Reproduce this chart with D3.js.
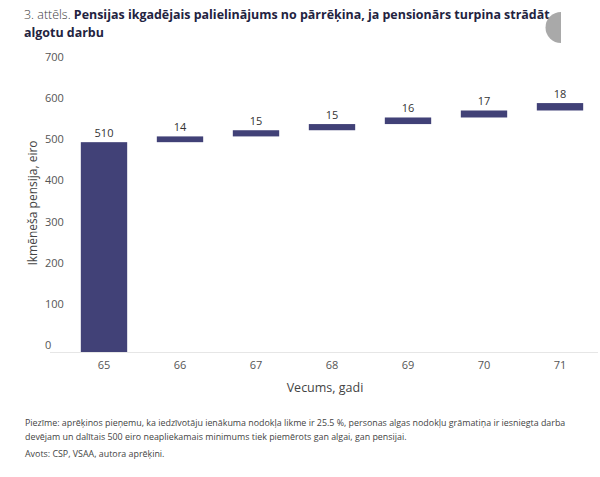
<!DOCTYPE html>
<html>
  <head>
    <meta charset="UTF-8" />
    <script src="https://d3js.org/d3.v7.min.js"></script>
    <style>
      body { margin: 0; background: #fff; }
      text { font-family: "Open Sans", sans-serif; }
    </style>
  </head>
  <body>
    <div id="chart"></div>

    <script>
      // ages on the x axis
      var ages = ["65", "66", "67", "68", "69", "70", "71"];
      // first bar is the starting pension, the rest are yearly increases
      var increments = [510, 14, 15, 15, 16, 17, 18];
      var yTicks = [0, 100, 200, 300, 400, 500, 600, 700];

      var width = 600,
        height = 477;

      var svg = d3
        .select("#chart")
        .append("svg")
        .attr("width", width)
        .attr("height", height);

      // running totals for the waterfall
      var data = [];
      var total = 0;
      for (var i = 0; i < ages.length; i++) {
        data.push({ age: ages[i], start: total, end: total + increments[i], value: increments[i] });
        total += increments[i];
      }

      var x = d3
        .scaleBand()
        .domain(ages)
        .range([66, 598])
        .paddingInner(0.39)
        .paddingOuter(0.195);

      var y = d3.scaleLinear().domain([0, 700]).range([352, 64]);

      // title
      var title = svg.append("text").attr("x", 24).attr("y", 19).style("font-size", "14px");
      title.append("tspan").attr("fill", "#3a3a3a").attr("font-weight", 300).text("3. attēls. ");
      title
        .append("tspan")
        .attr("fill", "#23233f")
        .attr("font-weight", 700)
        .text("Pensijas ikgadējais palielinājums no pārrēķina, ja pensionārs turpina strādāt");
      var title2 = svg
        .append("text")
        .attr("x", 24)
        .attr("y", 37)
        .attr("fill", "#23233f")
        .attr("font-weight", 700)
        .style("font-size", "14px")
        .text("algotu darbu");

      // shrink the title so the first line ends where the original does
      var tw = title.node().getComputedTextLength();
      var fs = Math.min(14, (14 * 526) / tw);
      title.style("font-size", fs + "px");
      title2.style("font-size", fs + "px");

      // grey half circle in the corner
      svg
        .append("path")
        .attr("d", d3.arc()({ innerRadius: 0, outerRadius: 15.5, startAngle: Math.PI, endAngle: 2 * Math.PI }))
        .attr("transform", "translate(561,27.5)")
        .attr("fill", "#a9a9a9");

      // y tick labels (left aligned, sitting above their value)
      svg
        .append("g")
        .selectAll("text")
        .data(yTicks)
        .enter()
        .append("text")
        .attr("x", 45)
        .attr("y", function (d) { return y(d) - 3; })
        .attr("fill", "#555")
        .style("font-size", "11px")
        .text(function (d) { return d; });

      // baseline
      svg
        .append("line")
        .attr("x1", 50)
        .attr("x2", 598)
        .attr("y1", y(0) + 0.5)
        .attr("y2", y(0) + 0.5)
        .attr("stroke", "#e6e6e6");

      // bars
      svg
        .append("g")
        .selectAll("rect")
        .data(data)
        .enter()
        .append("rect")
        .attr("x", function (d) { return x(d.age); })
        .attr("width", x.bandwidth())
        .attr("y", function (d) { return y(d.end); })
        .attr("height", function (d) { return y(d.start) - y(d.end); })
        .attr("fill", "#414177");

      // value labels
      svg
        .append("g")
        .selectAll("text")
        .data(data)
        .enter()
        .append("text")
        .attr("x", function (d) { return x(d.age) + x.bandwidth() / 2; })
        .attr("y", function (d) { return y(d.end) - 5; })
        .attr("text-anchor", "middle")
        .attr("fill", "#333")
        .style("font-size", "11px")
        .text(function (d) { return d.value; });

      // x tick labels
      svg
        .append("g")
        .selectAll("text")
        .data(ages)
        .enter()
        .append("text")
        .attr("x", function (d) { return x(d) + x.bandwidth() / 2; })
        .attr("y", 369)
        .attr("text-anchor", "middle")
        .attr("fill", "#555")
        .style("font-size", "11px")
        .text(function (d) { return d; });

      // axis titles
      svg
        .append("text")
        .attr("x", 325)
        .attr("y", 392)
        .attr("text-anchor", "middle")
        .attr("fill", "#444")
        .style("font-size", "12.5px")
        .text("Vecums, gadi");

      svg
        .append("text")
        .attr("transform", "translate(37,203) rotate(-90)")
        .attr("text-anchor", "middle")
        .attr("fill", "#444")
        .style("font-size", "12px")
        .text("Ikmēneša pensija, eiro");

      // notes
      var notes = [
        "Piezīme: aprēķinos pieņemu, ka iedzīvotāju ienākuma nodokļa likme ir 25.5 %, personas algas nodokļu grāmatiņa ir iesniegta darba",
        "devējam un dalītais 500 eiro neapliekamais minimums tiek piemērots gan algai, gan pensijai."
      ];
      svg
        .append("g")
        .selectAll("text")
        .data(notes)
        .enter()
        .append("text")
        .attr("x", 25)
        .attr("y", function (d, i) { return 426 + i * 14; })
        .attr("fill", "#444")
        .style("font-size", "8.9px")
        .text(function (d) { return d; });
      svg
        .append("text")
        .attr("x", 25)
        .attr("y", 457)
        .attr("fill", "#444")
        .style("font-size", "8.9px")
        .text("Avots: CSP, VSAA, autora aprēķini.");
    </script>
  </body>
</html>
